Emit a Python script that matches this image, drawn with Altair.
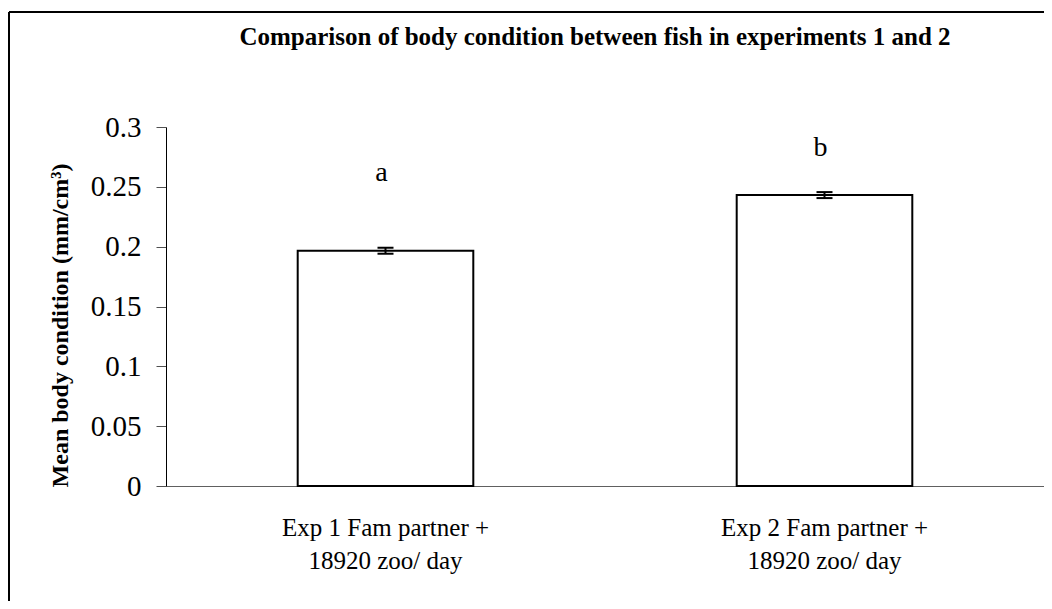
import altair as alt
import pandas as pd

# ---- data ----
title_text = "Comparison of body condition between fish in experiments 1 and 2"
categories = ["Exp 1 Fam partner +\n18920 zoo/ day", "Exp 2 Fam partner +\n18920 zoo/ day"]
means = [0.1966, 0.2431]
errors = [0.0025, 0.0025]
letters = ["a", "b"]
letter_y = [0.255, 0.276]
y_ticks = [0, 0.05, 0.1, 0.15, 0.2, 0.25, 0.3]

df = pd.DataFrame({
    "cat": categories,
    "mean": means,
    "lo": [m - e for m, e in zip(means, errors)],
    "hi": [m + e for m, e in zip(means, errors)],
    "letter": letters,
    "ly": letter_y,
})

FONT = "Liberation Serif"
W, H = 878, 359

x_enc = alt.X(
    "cat:N",
    sort=categories,
    title=None,
    scale=alt.Scale(paddingInner=0.6, paddingOuter=0.3),
    axis=alt.Axis(
        labelExpr="split(datum.label, '\\n')",
        labelAngle=0,
        labelFont=FONT,
        labelFontSize=25,
        labelLineHeight=33,
        labelColor="black",
        labelPadding=29,
        labelLimit=0,
        ticks=False,
        domainColor="#606060",
        domainWidth=1,
        grid=False,
    ),
)

y_scale = alt.Scale(domain=[0, 0.3], nice=False, zero=True)

base = alt.Chart(df)

bars = base.mark_bar(fill="white", stroke="black", strokeWidth=2).encode(
    x=x_enc,
    y=alt.Y(
        "mean:Q",
        scale=y_scale,
        title="Mean body condition (mm/cm³)",
        axis=alt.Axis(
            values=y_ticks,
            format=".2~f",
            labelFont=FONT,
            labelFontSize=29,
            labelColor="black",
            labelPadding=15,
            tickSize=10,
            tickColor="#505050",
            domainColor="black",
            domainWidth=1,
            grid=False,
            titleFont=FONT,
            titleFontSize=24,
            titleFontWeight="bold",
            titleColor="black",
            titleAngle=270,
            titleBaseline="alphabetic",
            titleAlign="center",
            titleX=-99,
            titleY=198,
        ),
    ),
)

x_plain = alt.X("cat:N", sort=categories)

err = base.mark_rule(color="black", strokeWidth=2).encode(
    x=x_plain,
    y=alt.Y("lo:Q", scale=y_scale),
    y2="hi:Q",
)
cap_lo = base.mark_tick(color="black", thickness=2, size=16, opacity=1).encode(
    x=x_plain,
    y=alt.Y("lo:Q", scale=y_scale),
)
cap_hi = base.mark_tick(color="black", thickness=2, size=16, opacity=1).encode(
    x=x_plain,
    y=alt.Y("hi:Q", scale=y_scale),
)

letters_layer = base.mark_text(
    font=FONT, fontSize=28, color="black", baseline="alphabetic", dx=-4
).encode(
    x=x_plain,
    y=alt.Y("ly:Q", scale=y_scale),
    text="letter:N",
)

one = pd.DataFrame({"title": [title_text]})
frame_left = alt.Chart(one).mark_rule(color="black", strokeWidth=2).encode(
    x=alt.value(-157), y=alt.value(-115), y2=alt.value(474)
)
frame_top = alt.Chart(one).mark_rule(color="black", strokeWidth=2).encode(
    x=alt.value(-157), x2=alt.value(W), y=alt.value(-115)
)
title_layer = alt.Chart(one).mark_text(
    font=FONT, fontSize=25, fontWeight="bold", color="black",
    align="center", baseline="alphabetic",
).encode(
    x=alt.value(429), y=alt.value(-82), text="title:N"
)

chart = alt.layer(
    bars, err, cap_lo, cap_hi, letters_layer, frame_left, frame_top, title_layer
).properties(
    width=W,
    height=H,
    background="white",
    autosize=alt.AutoSizeParams(type="none"),
    padding={"left": 158, "top": 119, "right": 0, "bottom": 115},
).configure_view(strokeWidth=0, stroke="transparent").configure_axis(grid=False)

chart.save("out.html", embed_options={"renderer": "svg", "actions": False})
